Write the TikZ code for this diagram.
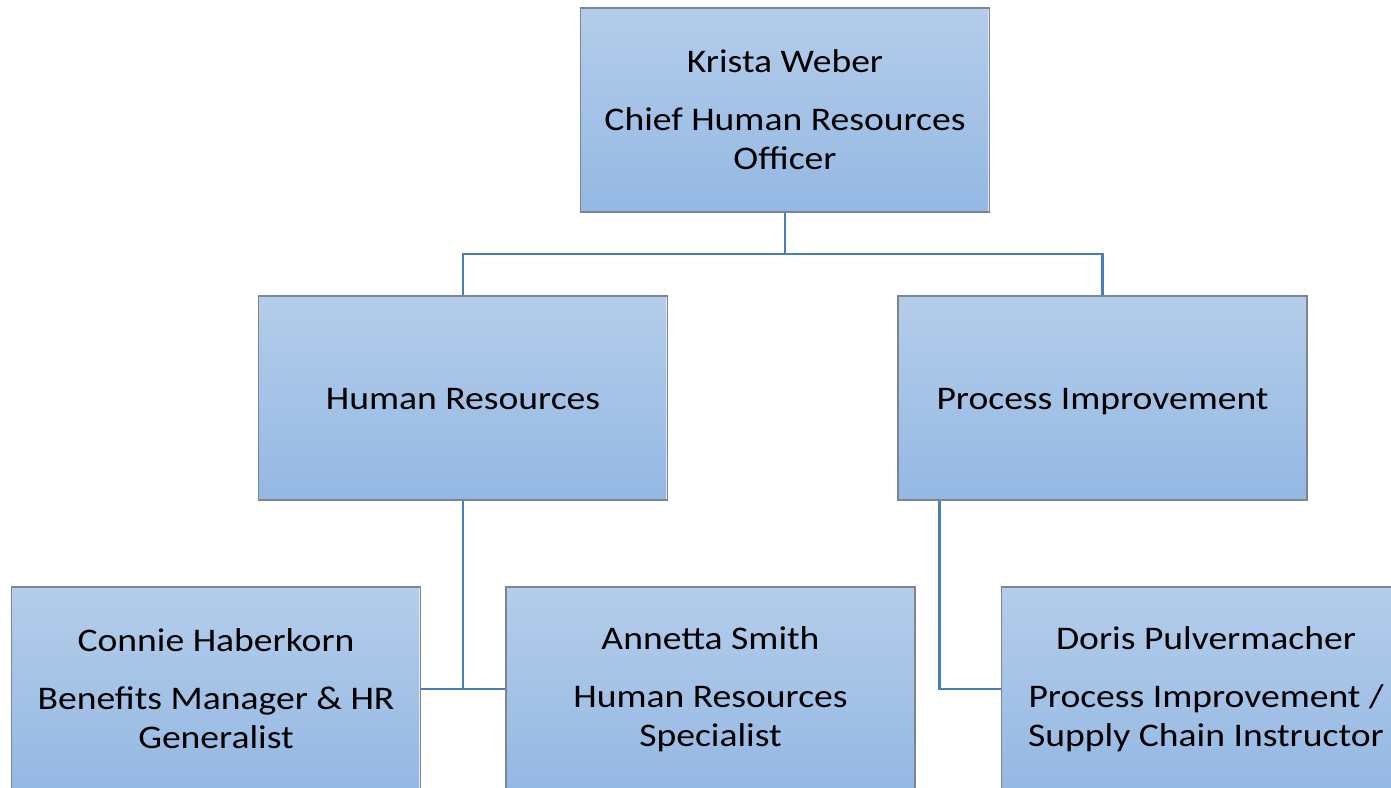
\documentclass[tikz,border=0pt]{standalone}
\usepackage{fontspec}
\setmainfont{Carlito}[FakeStretch=1.14]
\usetikzlibrary{calc}
\definecolor{boxtop}{RGB}{180,205,234}
\definecolor{boxbot}{RGB}{148,184,227}
\definecolor{boxline}{RGB}{125,133,143}
\definecolor{linkblue}{RGB}{74,126,187}
\tikzset{
  orgbox/.style={rectangle, minimum width=409pt, minimum height=204pt,
    top color=boxtop, bottom color=boxbot, draw=boxline, line width=1.2pt,
    align=center, inner sep=0pt, font=\fontsize{33}{39}\selectfont,
    path picture={\draw[line width=2.5pt, color=white!55!boxtop]
      (path picture bounding box.north east) -- (path picture bounding box.south east);}},
  onebox/.style={orgbox, text height=23pt, text depth=0pt},
  link/.style={draw=linkblue, line width=2.4pt}
}
\begin{document}
\begin{tikzpicture}[x=1pt,y=-1pt]
\useasboundingbox (0,0) rectangle (1391,787);
\clip (0,0) rectangle (1391,787);
\node[orgbox] (top) at (785,110) {Krista Weber\\[19pt]Chief Human Resources\\Officer};
\node[onebox] (hr) at (463,398) {Human Resources};
\node[onebox] (pi) at (1102.5,398) {Process Improvement};
\node[orgbox] (connie) at (216,689) {Connie Haberkorn\\[19pt]Benefits Manager \& HR\\Generalist};
\node[orgbox] (annetta) at (710.5,689) {Annetta Smith\\[19pt]Human Resources\\Specialist};
\node[orgbox] (doris) at (1206,689) {Doris Pulvermacher\\[19pt]Process Improvement /\\Supply Chain Instructor};
\coordinate (split) at ($(top.south)!0.5!(top.south |- hr.north)$);
\draw[link] (top.south) -- (split);
\draw[link] (hr.north) |- (split) -| (pi.north);
\draw[link] (hr.south) -- (hr.south |- connie.east);
\draw[link] (connie.east) -- (annetta.west);
\coordinate (pidrop) at ([xshift=42pt]pi.south west);
\draw[link] (pidrop) |- (doris.west);
\end{tikzpicture}
\end{document}
